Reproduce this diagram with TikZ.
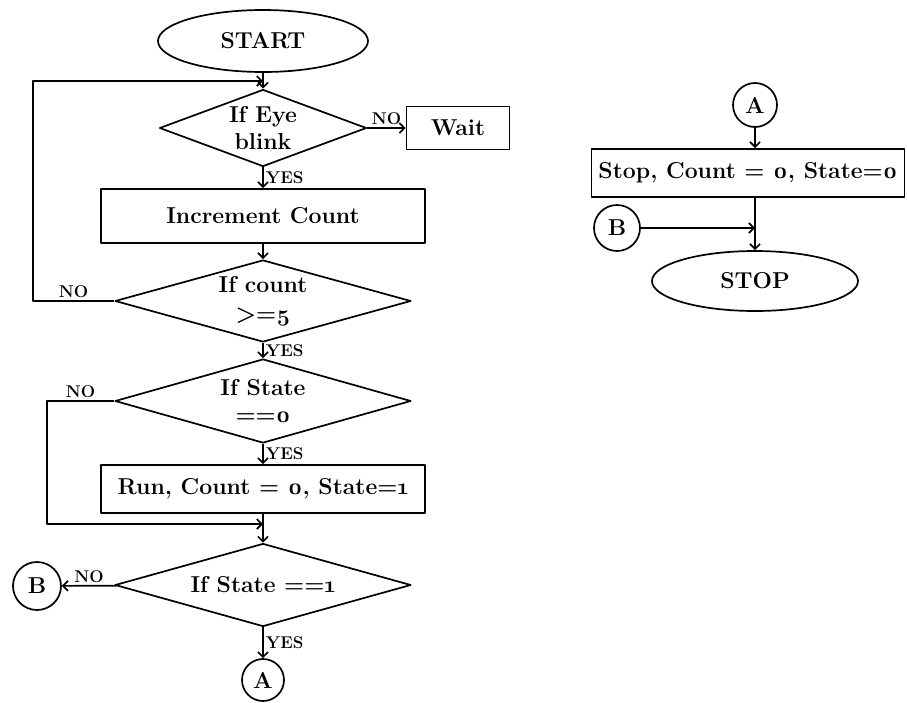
\documentclass[tikz,border=0pt]{standalone}
\usepackage{fontspec}
\setmainfont{Latin Modern Roman}[Numbers=OldStyle]
\usetikzlibrary{shapes.geometric,arrows.meta}
\begin{document}
\begin{tikzpicture}[x=1pt,y=-1pt,line width=1.7pt,line join=round,>={Straight Barb[length=5pt,width=10pt]},
		font=\fontsize{23}{27}\selectfont\bfseries,
		hop/.style={draw,inner sep=0pt},
		thoi/.style={draw,diamond,inner sep=0pt,minimum width=296,minimum height=83},
		bau/.style={draw,ellipse,inner sep=0pt,minimum width=210,minimum height=62},
		tron/.style={draw,circle,inner sep=0pt,minimum size=46},
		nhan/.style={font=\fontsize{17}{19}\selectfont\bfseries,inner sep=2pt}]
	\useasboundingbox (0,0) rectangle (907,702);
	% Cot trai
	\node[bau] (start) at (263,41) {START};
	\node[thoi,minimum width=207,minimum height=77,label={[name=t1,align=center]center:If Eye\\[0pt]blink}] (d1) at (263,128) {};
	\node[hop,minimum width=103,minimum height=43] (wait) at (458,128) {Wait};
	\node[hop,minimum width=324,minimum height=54] (inc) at (263,216) {Increment Count};
	\node[thoi,minimum height=82,label={[name=t2,align=center]center:If count\\[2pt]>=5}] (d2) at (263,301) {};
	\node[thoi,minimum height=84,label={[name=t3,align=center]center:If State\\[0pt]==0}] (d3) at (263,401) {};
	\node[hop,minimum width=324,minimum height=48] (run) at (263,489) {Run, Count = 0, State=1};
	\node[thoi,label={[name=t4]center:If State ==1}] (d4) at (263,585) {};
	\node[tron,minimum size=48] (b1) at (37,586) {B};
	\node[tron,minimum size=42] (a1) at (263,680) {A};
	% Cot phai
	\node[tron,minimum size=44] (a2) at (755,105) {A};
	\node[hop,minimum width=313,minimum height=48] (stopbox) at (748,173) {Stop, Count = 0, State=0};
	\node[tron] (b2) at (617,228) {B};
	\node[bau,minimum width=206,minimum height=60] (stop) at (755,281) {STOP};
	% Diem noi
	\path (263,81) coordinate (j1)
	(263,524) coordinate (j2)
	(755,228) coordinate (j3);
	% Mui ten
	\draw[->] (start) -- (d1);
	\draw[->] (d1) -- node[nhan,above] (n1) {NO} (wait);
	\draw[->] (d1) -- node[nhan,right] (y1) {YES} (inc);
	\draw[->] (inc) -- (d2);
	\draw[->] (d2.west) -- node[nhan,above] (n2) {NO} ++(-81,0) |- (j1);
	\draw[->] (d2) -- node[nhan,right] (y2) {YES} (d3);
	\draw[->] (d3.west) -- node[nhan,above] (n3) {NO} ++(-67,0) |- (j2);
	\draw[->] (d3) -- node[nhan,right] (y3) {YES} (run);
	\draw[->] (run) -- (d4);
	\draw[->] (d4) -- node[nhan,above] (n4) {NO} (b1);
	\draw[->] (d4) -- node[nhan,right] (y4) {YES} (a1);
	\draw[->] (a2) -- (a2 |- stopbox.north);
	\draw[->] (a2 |- stopbox.south) -- (stop);
	\draw[->] (b2) -- (j3);
\end{tikzpicture}
\end{document}
